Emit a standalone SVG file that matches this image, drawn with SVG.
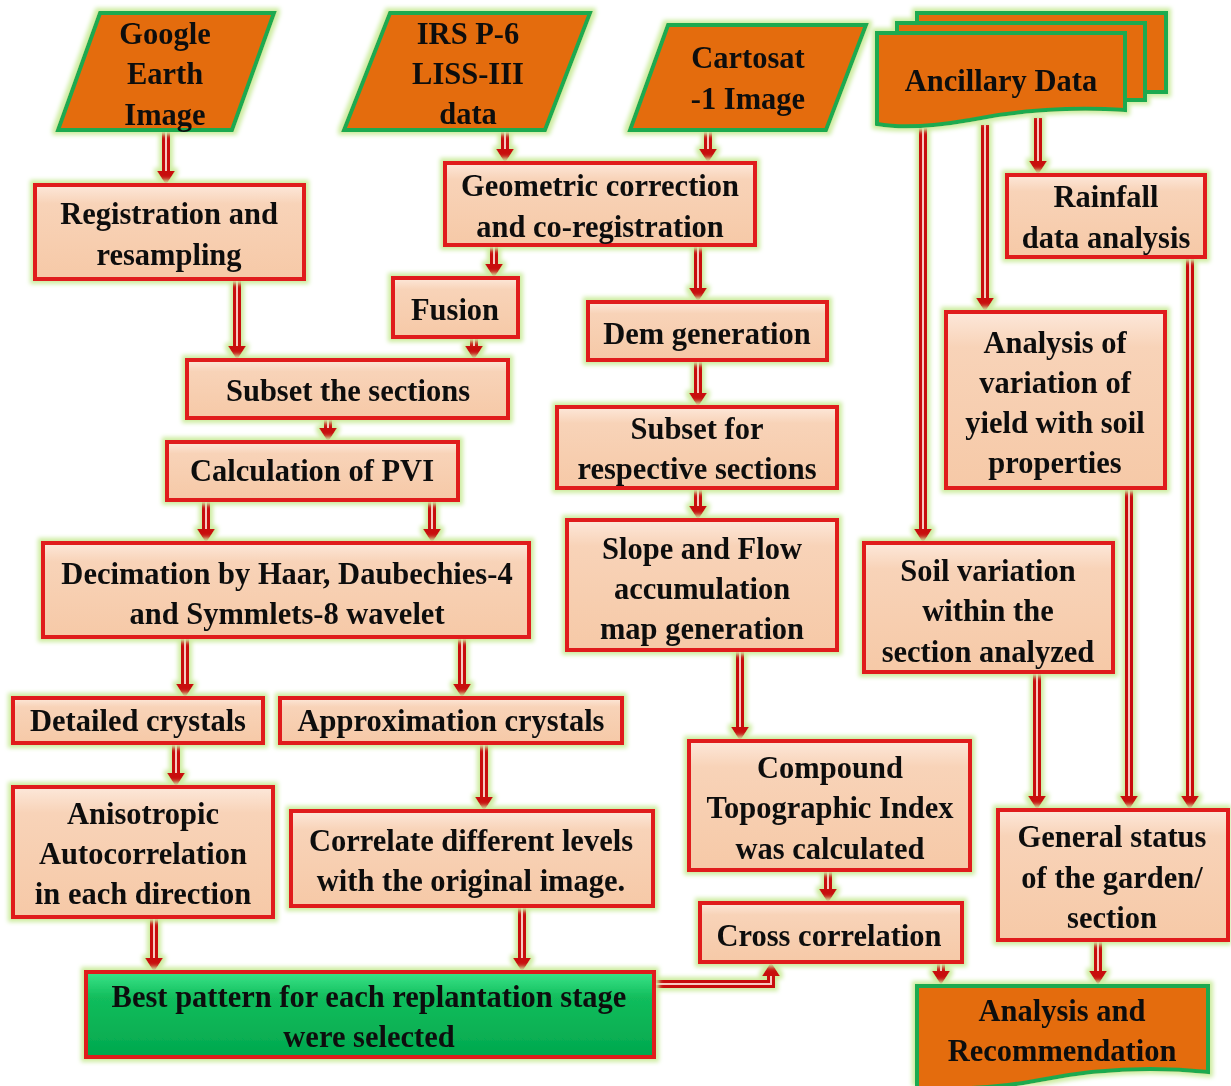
<svg xmlns="http://www.w3.org/2000/svg" width="1231" height="1086" viewBox="0 0 1231 1086">
<defs>
<style>
.box{fill:url(#peach);stroke:#e01b1b;stroke-width:4}
.green{fill:url(#greenG);stroke:#e01b1b;stroke-width:4}
.io{fill:#e46c0a;stroke:#1faa50;stroke-width:4;stroke-linejoin:miter}
text{font-family:"Liberation Serif","Times New Roman",serif;font-weight:bold;font-size:30.5px;fill:#111;text-anchor:middle}
.outer{fill:none;stroke:#c80d0d;stroke-width:8;marker-end:url(#head)}
.inner{fill:none;stroke:#f7c9c0;stroke-width:2}
</style>
<linearGradient id="peach" x1="0" y1="0" x2="0" y2="1">
<stop offset="0" stop-color="#fde8da"/>
<stop offset="0.2" stop-color="#f8d3b8"/>
<stop offset="1" stop-color="#f6c9a7"/>
</linearGradient>
<linearGradient id="greenG" x1="0" y1="0" x2="0" y2="1">
<stop offset="0" stop-color="#3ce58a"/>
<stop offset="0.3" stop-color="#12bd5c"/>
<stop offset="1" stop-color="#02a84e"/>
</linearGradient>
<filter id="glow" filterUnits="userSpaceOnUse" x="0" y="0" width="1231" height="1086">
<feMorphology in="SourceAlpha" operator="dilate" radius="3" result="d"/>
<feGaussianBlur in="d" stdDeviation="2" result="b"/>
<feFlood flood-color="#cdeca0"/>
<feComposite in2="b" operator="in" result="g"/>
<feMerge><feMergeNode in="g"/><feMergeNode in="SourceGraphic"/></feMerge>
</filter>
<marker id="head" markerUnits="userSpaceOnUse" viewBox="0 -10 20 20" markerWidth="20" markerHeight="20" refX="0" refY="0" orient="auto">
<path d="M0,-9 L14,0 L0,9 Z" fill="#c80d0d"/>
</marker>
</defs>
<rect width="1231" height="1086" fill="#ffffff"/>

<g id="connectors" filter="url(#glow)">
<path class="outer" d="M166,130 V171"/><path class="inner" d="M166,130 V171"/>
<path class="outer" d="M237,279 V346"/><path class="inner" d="M237,279 V346"/>
<path class="outer" d="M505,130 V149"/><path class="inner" d="M505,130 V149"/>
<path class="outer" d="M708,130 V149"/><path class="inner" d="M708,130 V149"/>
<path class="outer" d="M494,245 V264"/><path class="inner" d="M494,245 V264"/>
<path class="outer" d="M698,245 V288"/><path class="inner" d="M698,245 V288"/>
<path class="outer" d="M474,337 V346"/><path class="inner" d="M474,337 V346"/>
<path class="outer" d="M328,418 V428"/><path class="inner" d="M328,418 V428"/>
<path class="outer" d="M206,500 V529"/><path class="inner" d="M206,500 V529"/>
<path class="outer" d="M432,500 V529"/><path class="inner" d="M432,500 V529"/>
<path class="outer" d="M185,637 V684"/><path class="inner" d="M185,637 V684"/>
<path class="outer" d="M462,637 V684"/><path class="inner" d="M462,637 V684"/>
<path class="outer" d="M176,743 V773"/><path class="inner" d="M176,743 V773"/>
<path class="outer" d="M484,743 V797"/><path class="inner" d="M484,743 V797"/>
<path class="outer" d="M154,917 V958"/><path class="inner" d="M154,917 V958"/>
<path class="outer" d="M522,906 V958"/><path class="inner" d="M522,906 V958"/>
<path class="outer" d="M654,984 H771 V976"/><path class="inner" d="M654,984 H771 V976"/>
<path class="outer" d="M828,870 V889"/><path class="inner" d="M828,870 V889"/>
<path class="outer" d="M941,962 V971"/><path class="inner" d="M941,962 V971"/>
<path class="outer" d="M698,360 V393"/><path class="inner" d="M698,360 V393"/>
<path class="outer" d="M698,488 V506"/><path class="inner" d="M698,488 V506"/>
<path class="outer" d="M740,650 V727"/><path class="inner" d="M740,650 V727"/>
<path class="outer" d="M1038,118 V161"/><path class="inner" d="M1038,118 V161"/>
<path class="outer" d="M985,125 V298"/><path class="inner" d="M985,125 V298"/>
<path class="outer" d="M923,128 V529"/><path class="inner" d="M923,128 V529"/>
<path class="outer" d="M1037,672 V796"/><path class="inner" d="M1037,672 V796"/>
<path class="outer" d="M1129,488 V796"/><path class="inner" d="M1129,488 V796"/>
<path class="outer" d="M1190,257 V796"/><path class="inner" d="M1190,257 V796"/>
<path class="outer" d="M1098,940 V971"/><path class="inner" d="M1098,940 V971"/>
</g>

<g id="google" filter="url(#glow)">
<polygon class="io" points="100,13 274,13 232,130 58,130"/>
<text x="165" y="44">Google</text><text x="165" y="84">Earth</text><text x="165" y="125">Image</text>
</g>
<g id="irs" filter="url(#glow)">
<polygon class="io" points="390,13 590,13 545,130 344,130"/>
<text x="468" y="44">IRS P-6</text><text x="468" y="84">LISS-III</text><text x="468" y="124">data</text>
</g>
<g id="cartosat" filter="url(#glow)">
<polygon class="io" points="668,25 866,25 826,130 630,130"/>
<text x="748" y="68">Cartosat</text><text x="748" y="109">-1 Image</text>
</g>
<g id="ancillary" filter="url(#glow)">
<path class="io" d="M917,13 H1166 V92 H1145 V23 H917 Z"/>
<path class="io" d="M897,23 H1145 V100 H1125 V33 H897 Z"/>
<path class="io" d="M877,33 H1125 V110 C1060,106 1010,112 970,120 C930,127 900,128 877,124 Z"/>
<text x="1001" y="91">Ancillary Data</text>
</g>

<g id="registration" filter="url(#glow)">
<rect class="box" x="35" y="185" width="269" height="94"/>
<text x="169" y="224">Registration and</text><text x="169" y="265">resampling</text>
</g>
<g id="geometric" filter="url(#glow)">
<rect class="box" x="445" y="163" width="310" height="82"/>
<text x="600" y="196">Geometric correction</text><text x="600" y="237">and co-registration</text>
</g>
<g id="rainfall" filter="url(#glow)">
<rect class="box" x="1007" y="175" width="198" height="82"/>
<text x="1106" y="207">Rainfall</text><text x="1106" y="248">data analysis</text>
</g>
<g id="fusion" filter="url(#glow)">
<rect class="box" x="393" y="278" width="125" height="59"/>
<text x="455" y="320">Fusion</text>
</g>
<g id="dem" filter="url(#glow)">
<rect class="box" x="588" y="302" width="239" height="58"/>
<text x="707" y="344">Dem generation</text>
</g>
<g id="subset" filter="url(#glow)">
<rect class="box" x="187" y="360" width="321" height="58"/>
<text x="348" y="401">Subset the sections</text>
</g>
<g id="yield" filter="url(#glow)">
<rect class="box" x="946" y="312" width="219" height="176"/>
<text x="1055" y="353">Analysis of</text><text x="1055" y="393">variation of</text><text x="1055" y="433">yield with soil</text><text x="1055" y="473">properties</text>
</g>
<g id="subsetfor" filter="url(#glow)">
<rect class="box" x="557" y="407" width="280" height="81"/>
<text x="697" y="439">Subset for</text><text x="697" y="479">respective sections</text>
</g>
<g id="pvi" filter="url(#glow)">
<rect class="box" x="167" y="442" width="291" height="58"/>
<text x="312" y="481">Calculation of PVI</text>
</g>
<g id="decimation" filter="url(#glow)">
<rect class="box" x="43" y="543" width="486" height="94"/>
<text x="287" y="584">Decimation by Haar, Daubechies-4</text><text x="287" y="624">and Symmlets-8 wavelet</text>
</g>
<g id="slope" filter="url(#glow)">
<rect class="box" x="567" y="520" width="270" height="130"/>
<text x="702" y="559">Slope and Flow</text><text x="702" y="599">accumulation</text><text x="702" y="639">map generation</text>
</g>
<g id="soilvar" filter="url(#glow)">
<rect class="box" x="864" y="543" width="249" height="129"/>
<text x="988" y="581">Soil variation</text><text x="988" y="621">within the</text><text x="988" y="662">section analyzed</text>
</g>
<g id="detailed" filter="url(#glow)">
<rect class="box" x="13" y="698" width="250" height="45"/>
<text x="138" y="731">Detailed crystals</text>
</g>
<g id="approx" filter="url(#glow)">
<rect class="box" x="280" y="698" width="342" height="45"/>
<text x="451" y="731">Approximation crystals</text>
</g>
<g id="compound" filter="url(#glow)">
<rect class="box" x="689" y="741" width="281" height="129"/>
<text x="830" y="778">Compound</text><text x="830" y="818">Topographic Index</text><text x="830" y="859">was calculated</text>
</g>
<g id="anisotropic" filter="url(#glow)">
<rect class="box" x="13" y="787" width="260" height="130"/>
<text x="143" y="824">Anisotropic</text><text x="143" y="864">Autocorrelation</text><text x="143" y="904">in each direction</text>
</g>
<g id="correlate" filter="url(#glow)">
<rect class="box" x="291" y="811" width="362" height="95"/>
<text x="471" y="851">Correlate different levels</text><text x="471" y="891">with the original image.</text>
</g>
<g id="general" filter="url(#glow)">
<rect class="box" x="998" y="810" width="230" height="130"/>
<text x="1112" y="847">General status</text><text x="1112" y="888">of the garden/</text><text x="1112" y="928">section</text>
</g>
<g id="cross" filter="url(#glow)">
<rect class="box" x="700" y="903" width="262" height="59"/>
<text x="829" y="946">Cross correlation</text>
</g>
<g id="best" filter="url(#glow)">
<rect class="green" x="86" y="972" width="568" height="85"/>
<text x="369" y="1007">Best pattern for each replantation stage</text><text x="369" y="1047">were selected</text>
</g>
<g id="recommendation" filter="url(#glow)">
<path class="io" d="M917,986 H1208 V1072 C1150,1066 1090,1070 1040,1080 C1000,1088 960,1090 917,1088 Z"/>
<text x="1062" y="1021">Analysis and</text><text x="1062" y="1061">Recommendation</text>
</g>
</svg>
